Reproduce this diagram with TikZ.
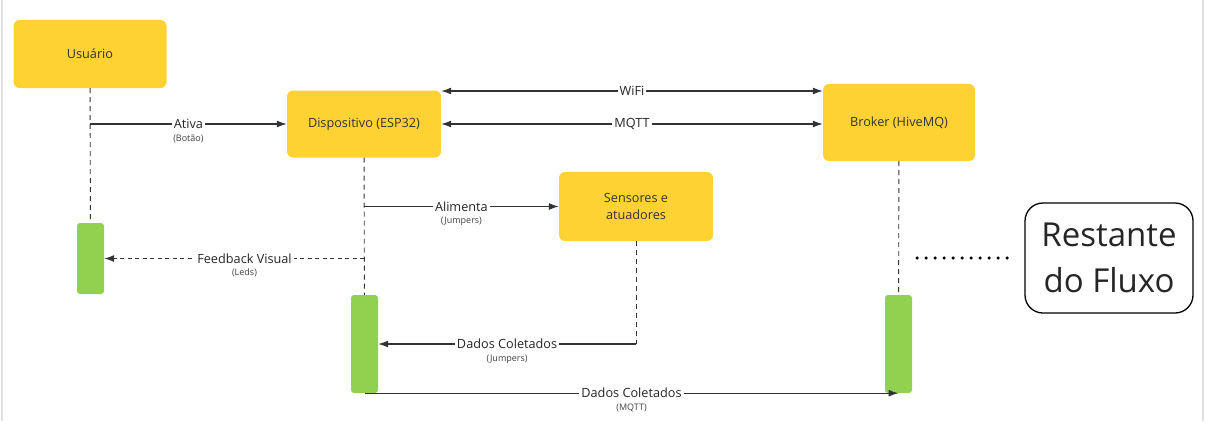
\documentclass[tikz,border=0pt]{standalone}
\usepackage{fontspec}
\setmainfont{Open Sans}
\usetikzlibrary{arrows.meta,positioning,calc}
\definecolor{boxyellow}{HTML}{FFD233}
\definecolor{bargreen}{HTML}{92D14F}
\definecolor{inkgray}{HTML}{333333}
\tikzset{
actor/.style={rectangle, rounded corners=6pt, fill=boxyellow, text=inkgray,
              font=\fontsize{12.7}{17}\selectfont, align=center},
bar/.style={rectangle, rounded corners=3pt, fill=bargreen, minimum width=27pt},
note/.style={rectangle, rounded corners=18pt, draw=black, line width=1.3pt,
             font=\fontsize{33}{46}\selectfont, align=center, text=black!85},
lifeline/.style={draw=inkgray, line width=0.9pt, dash pattern=on 5pt off 4pt},
msg/.style={->, draw=inkgray, line width=1.2pt},
lbl/.style={fill=white, inner sep=2pt, font=\fontsize{12.7}{14}\selectfont, text=black!85},
sub/.style={font=\fontsize{9}{10}\selectfont, inner sep=0pt, text=black!75},
>={Latex[width=7pt,length=10pt]},
}
\begin{document}
\begin{tikzpicture}[x=1pt, y=-1pt, label distance=2.5pt]

    \useasboundingbox (0,0) rectangle (1205,421);
    \draw[black!12, line width=2pt] (2,0) -- (2,421);
    \draw[black!12, line width=2pt] (1203,0) -- (1203,421);

    \node[actor, minimum width=153pt, minimum height=68pt] (usuario) at(90, 54)  {Usuário};
    \node[actor, minimum width=154pt, minimum height=67pt] (disp) at(364, 124)  {Dispositivo (ESP32)};
    \node[actor, minimum width=152pt, minimum height=77pt] (broker) at(899, 122.5)  {Broker (HiveMQ)};
    \node[actor, minimum width=154pt, minimum height=69pt] (sens) at(636, 206.5)  {Sensores e\\atuadores};

    \node[bar, minimum height=71pt] (bar1) at(90.5, 258.5)  {};
    \node[bar, minimum height=98pt] (bar2) at(364.5, 344)  {};
    \node[bar, minimum height=98pt] (bar3) at(898.5, 344)  {};

    \node[note, minimum width=168pt, minimum height=110pt] (restante) at(1109, 258)  {Restante\\do Fluxo};

    \coordinate (ativa) at(90, 124);
    \coordinate (alim) at(364, 206.5);
    \coordinate (feed) at(364, 258.5);
    \coordinate (coleta) at(636, 344);
    \coordinate (dots) at(917, 258);
    \coordinate (wifi) at($(disp.east)+(0,-33)$);

    \draw[lifeline] (usuario)  to (bar1) ;
    \draw[lifeline] (disp)  to (bar2) ;
    \draw[lifeline] (broker)  to (bar3) ;
    \draw[lifeline] (sens)  to (coleta) ;

    \draw[msg] (ativa)  to node[lbl, label={[sub]below:(Botão)}] {Ativa} (disp.west) ;
    \draw[msg, <->] (wifi)  to node[lbl] {WiFi} (wifi -| broker.west) ;
    \draw[msg, <->] (disp.east)  to node[lbl] {MQTT} (disp.east -| broker.west) ;
    \draw[msg] (alim)  to node[lbl, label={[sub]below:(Jumpers)}] {Alimenta} (sens.west) ;
    \draw[msg, dash pattern=on 4pt off 3.5pt] (feed)  to node[lbl, pos=.46, label={[sub]below:(Leds)}] {Feedback Visual} (bar1.east) ;
    \draw[msg] (coleta)  to node[lbl, label={[sub]below:(Jumpers)}] {Dados Coletados} (bar2.east) ;
    \draw[msg] (bar2.south)  to node[lbl, label={[sub]below:(MQTT)}] {Dados Coletados} (bar3.south) ;

    \draw[line width=3.5pt, line cap=round, dash pattern=on 0pt off 9pt, shorten >=9pt] (dots)  to (restante.west) ;

\end{tikzpicture}
\end{document}
